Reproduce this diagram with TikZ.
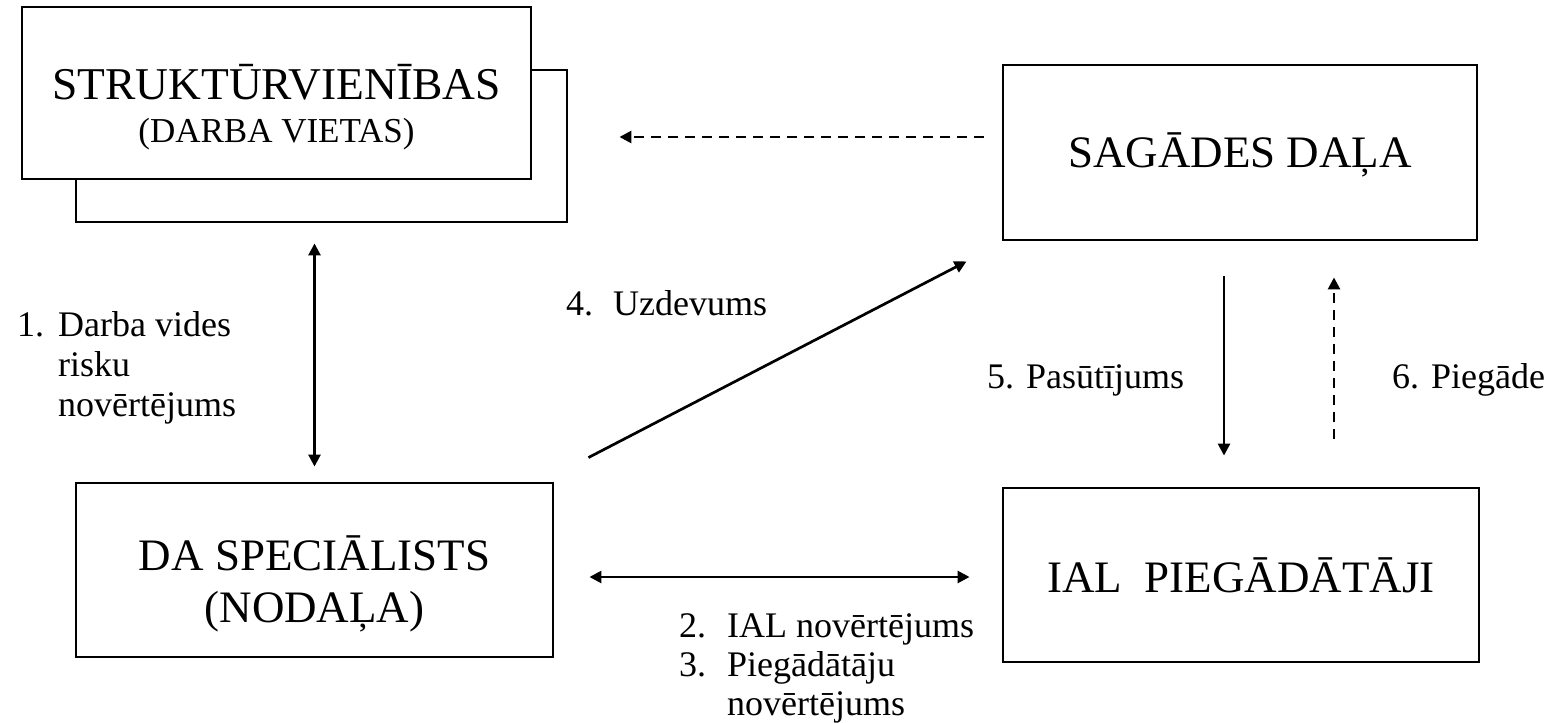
\documentclass[tikz,border=0pt]{standalone}
\usepackage{fontspec}
\setmainfont{LiberationSerif}[Extension=.ttf, UprightFont=*-Regular, BoldFont=*-Bold, ItalicFont=*-Italic, BoldItalicFont=*-BoldItalic]
\usetikzlibrary{arrows.meta,calc}
\begin{document}
\begin{tikzpicture}[x=1pt,y=-1pt,
  box/.style={draw, line width=2.9pt, fill=white, inner sep=0pt, text height=0pt, text depth=0pt},
  conn/.style={line width=2.7pt, -{Triangle[length=12pt,width=12pt]}},
  biconn/.style={line width=2.7pt, {Triangle[length=12pt,width=12pt]}-{Triangle[length=12pt,width=12pt]}},
  dashconn/.style={conn, dash pattern=on 10pt off 7pt},
  lbl/.style={inner sep=0pt, anchor=base west, font=\fontsize{36}{40}\selectfont}
]
\fill[white] (0,0) rectangle (1559,723);
\useasboundingbox (0,0) rectangle (1559,723);

% boxes
\node[box, minimum width=491pt, minimum height=152pt] (back) at (321.5,146) {};
\node[box, minimum width=509pt, minimum height=172pt, text height=12pt] (sv) at (276.5,93)
  {\fontsize{35}{43}\selectfont\begin{tabular}[t]{@{}c@{}}{\fontsize{45.5}{50}\selectfont STRUKTŪRVIENĪBAS}\\(DARBA VIETAS)\end{tabular}};
\node[box, minimum width=474pt, minimum height=175pt, text height=30pt, font=\fontsize{45}{52}\selectfont] (sg) at (1240,152.5) {SAGĀDES DAĻA};
\node[box, minimum width=477pt, minimum height=174pt] (da) at (314.5,570)
  {\fontsize{45}{52}\selectfont\begin{tabular}[t]{@{}c@{}}DA SPECIĀLISTS\\(NODAĻA)\end{tabular}};
\node[box, minimum width=476pt, minimum height=174pt, text height=34pt, font=\fontsize{45}{52}\selectfont] (ial) at (1241,575) {IAL\ \ PIEGĀDĀTĀJI};

% labels
\node[lbl] (l1) at (17,336) {\begin{tabular}[t]{@{}l@{}l@{}}\makebox[41pt][l]{1.}&Darba vides\\&risku\\&novērtējums\end{tabular}};
\node[lbl] (l4) at (566,315) {\makebox[47pt][l]{4.}Uzdevums};
\node[lbl] (l5) at (987,388) {5. Pasūtījums};
\node[lbl] (l6) at (1392,388) {6. Piegāde};
\node[lbl, font=\fontsize{36}{39}\selectfont] (l2) at (679,637) {\begin{tabular}[t]{@{}l@{}l@{}}\makebox[48pt][l]{2.}&IAL novērtējums\\3.&Piegādātāju\\&novērtējums\end{tabular}};

% connectors
\draw[dashconn] ($(sg.west)+(-18,-15.5)$) -- ($(back.east)+(51,-9)$);
\draw[biconn] ($(da.north |- back.south)+(0,20)$) -- ($(da.north)+(0,-15)$);
\draw[conn] ($(da.north east)+(34,-24)$) -- ($(sg.south west)+(-35,20)$);
\draw[biconn] ($(da.east)+(35,7)$) -- ($(ial.west)+(-32,2)$);
\draw[conn] ($(sg.south)+(-16,35)$) -- ($(ial.north)+(-17,-31)$);
\draw[dashconn] ($(ial.north)+(93,-48)$) -- ($(sg.south)+(94,36)$);
\end{tikzpicture}
\end{document}
